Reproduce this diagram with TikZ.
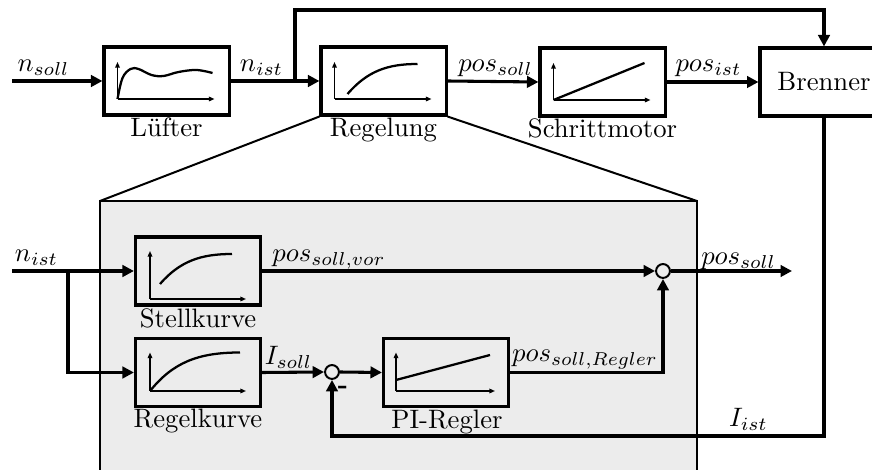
\documentclass[tikz,border=0pt]{standalone}
\usepackage{fontspec}
\usetikzlibrary{arrows.meta}
\definecolor{panelgray}{gray}{0.925}
\begin{document}
\begin{tikzpicture}[x=0.375pt,y=-0.375pt,
  blk/.style={draw,line width=1.15pt,minimum width=46.9pt,minimum height=25.5pt,inner sep=0pt},
  sumpt/.style={circle,draw,line width=0.75pt,minimum size=5.2pt,inner sep=0pt},
  sig/.style={line width=1.15pt},
  sigarrow/.style={sig,-{Triangle[length=4.3pt,width=4.3pt]}},
  axis/.style={line width=0.55pt,-{Triangle[length=2.1pt,width=1.7pt]}},
  curve/.style={line width=0.85pt},
  lbl/.style={inner sep=0pt,anchor=base},
  zoomline/.style={line width=0.75pt},
]
\useasboundingbox (0,0) rectangle (872,470);
\clip (0,0) rectangle (872,470);

% ---------- detail panel of the controller ----------
\coordinate (pnw) at (100,201);
\coordinate (pne) at (697,201);
\fill[panelgray] (pnw) rectangle (697,480);
\draw[line width=0.55pt] (100,480) -- (pnw) -- (pne) -- (697,480);

% ---------- top row ----------
\node[blk] (luefter) at (166.5,81) {};
\node[blk] (regelung) at (383.5,81) {};
\node[blk] (schritt) at (602.5,82) {};
\node[blk,minimum width=48pt] (brenner) at (824,82) {Brenner};

\node[lbl] (tluefter) at (166.5,137) {Lüfter};
\node[lbl] (tregelung) at (383.5,137) {Regelung};
\node[lbl] (tschritt) at (602.5,138) {Schrittmotor};

% zoom lines from the controller block to the panel
\draw[zoomline] (regelung.south west) -- (pnw);
\draw[zoomline] (regelung.south east) -- (pne);

% curves inside the top blocks
\begin{scope}[shift={(luefter.center)}]
  \draw[axis] (-49,18) -- (-49,-19);
  \draw[axis] (-49,18) -- (48,18);
  \draw[curve] plot[smooth,tension=0.6] coordinates
    {(-49,18) (-44,-3) (-36,-12) (-28,-12) (-15,-6) (-3,-5) (12,-9) (30,-11) (46,-8)};
\end{scope}
\begin{scope}[shift={(regelung.center)}]
  \draw[axis] (-49,18) -- (-49,-19);
  \draw[axis] (-49,18) -- (48,18);
  \draw[curve] (-36,13) .. controls (-16,-10) and (4,-17) .. (34,-17);
\end{scope}
\begin{scope}[shift={(schritt.center)}]
  \draw[axis] (-49,18) -- (-49,-19);
  \draw[axis] (-49,18) -- (48,18);
  \draw[curve] (-49,18) -- (42,-19);
\end{scope}

% top signals
\coordinate (nin) at (12,81);
\coordinate (nbranch) at (295,81);
\coordinate (ntop) at (295,10);
\draw[sigarrow] (nin) -- (luefter.west);
\draw[sigarrow] (luefter.east) -- (regelung.west);
\draw[sigarrow] (regelung.east) -- (schritt.west);
\draw[sigarrow] (schritt.east) -- (brenner.west);
\draw[sigarrow] (nbranch) -- (ntop) -| (brenner.north);

\node[lbl] (lnsoll) at (43.5,72) {$n_{soll}$};
\node[lbl] (lnist) at (261.5,72) {$n_{ist}$};
\node[lbl] (lpossoll) at (495.5,72) {$pos_{soll}$};
\node[lbl] (lposist) at (708.5,72) {$pos_{ist}$};

% ---------- panel contents ----------
\node[blk] (stell) at (198,271) {};
\node[blk] (regel) at (198,372.5) {};
\node[blk] (pi) at (446,372.5) {};
\node[sumpt] (s1) at (663,271) {};
\node[sumpt] (s2) at (332,372) {};

\node[lbl] (tstell) at (198,328) {Stellkurve};
\node[lbl] (tregel) at (198,428) {Regelkurve};
\node[lbl] (tpi) at (447,429) {PI-Regler};

\begin{scope}[shift={(stell.center)}]
  \draw[axis] (-48,28) -- (-48,-20);
  \draw[axis] (-48,28) -- (48,28);
  \draw[curve] (-38,13) .. controls (-18,-10) and (3,-17) .. (34,-17);
\end{scope}
\begin{scope}[shift={(regel.center)}]
  \draw[axis] (-48,18.5) -- (-48,-20);
  \draw[axis] (-48,18.5) -- (48,18.5);
  \draw[curve] (-48,18.5) .. controls (-25,-10) and (0,-20) .. (42,-20);
\end{scope}
\begin{scope}[shift={(pi.center)}]
  \draw[axis] (-50,18.5) -- (-50,-20);
  \draw[axis] (-50,18.5) -- (49,18.5);
  \draw[curve] (-50,7.5) -- (44,-17.5);
\end{scope}

% panel signals
\coordinate (pin) at (12,271);
\coordinate (pbranch) at (68,271);
\coordinate (pout) at (792,271);
\coordinate (fbcorner) at (824,436);
\draw[sigarrow] (pin) -- (stell.west);
\draw[sigarrow] (pbranch) |- (regel.west);
\draw[sigarrow] (stell.east) -- (s1.west);
\draw[sigarrow] (s1.east) -- (pout);
\draw[sigarrow] (regel.east) -- (s2.west);
\draw[sigarrow] (s2.east) -- (pi.west);
\draw[sigarrow] (pi.east) -| (s1.south);
\draw[sigarrow] (brenner.south) -- (fbcorner) -| (s2.south);

\node[lbl] (lnist2) at (36.5,262) {$n_{ist}$};
\node[lbl] (lvor) at (329,262) {$pos_{soll,vor}$};
\node[lbl] (lpossoll2) at (738.5,265) {$pos_{soll}$};
\node[lbl] (lisoll) at (288.5,365) {$I_{soll}$};
\node[lbl] (lregler) at (585,362) {$pos_{soll,Regler}$};
\node[lbl] (list) at (748.5,427) {$I_{ist}$};
\node[inner sep=0pt] (minus) at (343,390) {\textbf{-}};
\end{tikzpicture}
\end{document}
